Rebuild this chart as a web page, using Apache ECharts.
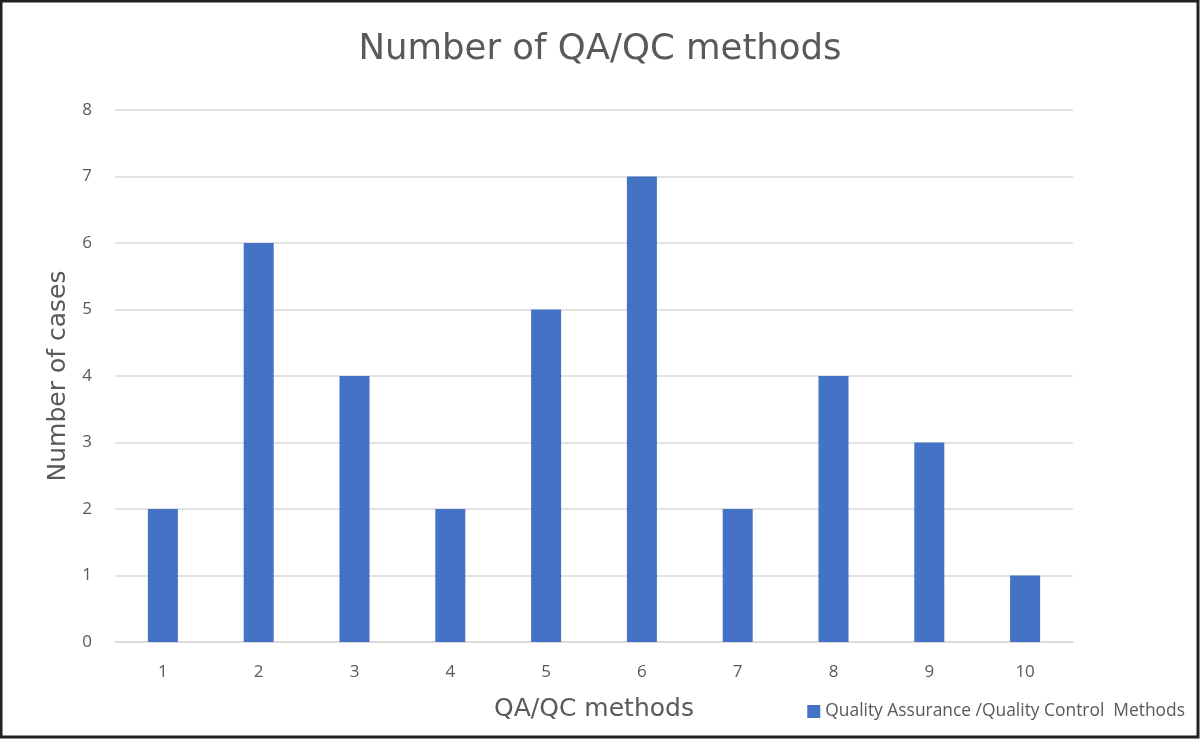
<!DOCTYPE html>
<html><head><meta charset="utf-8">
<script src="https://cdn.jsdelivr.net/npm/echarts@6/dist/echarts.min.js"></script>
<style>html,body{margin:0;padding:0;background:#fff}#c{width:1200px;height:739px}</style>
</head><body><div id="c"></div>
<script>
const categories = ['1','2','3','4','5','6','7','8','9','10'];
const cases = [2,6,4,2,5,7,2,4,3,1];
const seriesName = 'Quality Assurance /Quality Control  Methods';
const chart = echarts.init(document.getElementById('c'));
const font = '"Open Sans", sans-serif';
const vfont = '"DejaVu Sans", sans-serif';
chart.setOption({
  animation: false,
  backgroundColor: '#fff',
  title: {text: 'Number of QA/QC methods', left: 'center', top: 27,
    textStyle: {fontFamily: vfont, fontSize: 35.5, fontWeight: 'normal', color: '#595959'}},
  legend: {right: 10, bottom: 14, itemWidth: 13, itemHeight: 13, itemGap: 8,
    textStyle: {fontFamily: font, fontSize: 17.4, color: '#595959'},
    data: [{name: seriesName, icon: 'rect'}]},
  grid: {left: 115, right: 127, top: 110, bottom: 97, containLabel: false},
  xAxis: {type: 'category', data: categories, name: 'QA/QC methods', nameLocation: 'middle', nameGap: 55,
    nameTextStyle: {fontFamily: vfont, fontSize: 25, color: '#595959'},
    axisLine: {show: true, lineStyle: {color: '#d9d9d9', width: 1.5}}, axisTick: {show: false},
    axisLabel: {fontFamily: font, fontSize: 17, color: '#595959', margin: 22}},
  yAxis: {type: 'value', min: 0, max: 8, interval: 1, name: 'Number of cases', nameLocation: 'middle', nameGap: 37,
    nameTextStyle: {fontFamily: vfont, fontSize: 25, color: '#595959'},
    axisLine: {show: false}, axisTick: {show: false},
    axisLabel: {fontFamily: font, fontSize: 17, color: '#595959', margin: 23},
    splitLine: {lineStyle: {color: '#d9d9d9', width: 1.5}}},
  series: [{type: 'bar', name: seriesName, data: cases, barWidth: 30,
    itemStyle: {color: '#4472c4'}}],
  graphic: [{type: 'rect', shape: {x: 1, y: 1, width: 1197, height: 736},
    style: {fill: 'none', stroke: '#222', lineWidth: 3}, silent: true}]
});
</script></body></html>
